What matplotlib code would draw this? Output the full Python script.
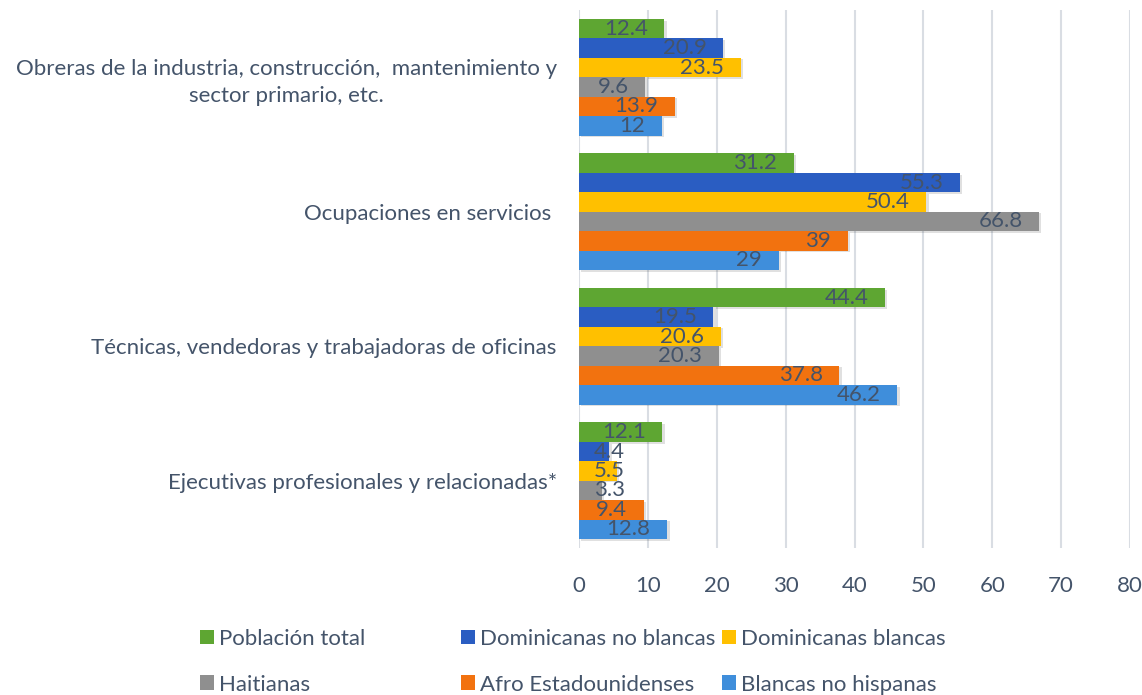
import matplotlib
matplotlib.use("Agg")
import matplotlib.pyplot as plt
from matplotlib.patches import Patch
import numpy as np

categories = [
    "Obreras de la industria, construcción,  mantenimiento y\nsector primario, etc.",
    "Ocupaciones en servicios ",
    "Técnicas, vendedoras y trabajadoras de oficinas",
    "Ejecutivas profesionales y relacionadas*",
]
series_names = ["Población total", "Dominicanas no blancas", "Dominicanas blancas",
                "Haitianas", "Afro Estadounidenses", "Blancas no hispanas"]
poblacion_total = [12.4, 31.2, 44.4, 12.1]
dominicanas_no_blancas = [20.9, 55.3, 19.5, 4.4]
dominicanas_blancas = [23.5, 50.4, 20.6, 5.5]
haitianas = [9.6, 66.8, 20.3, 3.3]
afro_estadounidenses = [13.9, 39, 37.8, 9.4]
blancas_no_hispanas = [12, 29, 46.2, 12.8]
value_labels = [
    ["12.4", "31.2", "44.4", "12.1"],
    ["20.9", "55.3", "19.5", "4.4"],
    ["23.5", "50.4", "20.6", "5.5"],
    ["9.6", "66.8", "20.3", "3.3"],
    ["13.9", "39", "37.8", "9.4"],
    ["12", "29", "46.2", "12.8"],
]
x_ticks = [0, 10, 20, 30, 40, 50, 60, 70, 80]

series = [poblacion_total, dominicanas_no_blancas, dominicanas_blancas,
          haitianas, afro_estadounidenses, blancas_no_hispanas]
colors = ["#5EA632", "#2A5DC2", "#FFC000", "#8F8F8F", "#F2720F", "#3F8EDB"]
text_color = "#44546A"
fs = 16

plt.rcParams["font.family"] = ["Lato", "DejaVu Sans"]

fig = plt.figure(figsize=(11.42, 6.95), dpi=100)
ax = fig.add_axes([579/1142, 1-548/695, (1130-579)/1142, (548-10)/695])

n = len(series)
h = 0.1444
ypos = np.arange(len(categories))
for i, (vals, c) in enumerate(zip(series, colors)):
    y = ypos - 0.5*n*h + (i+0.5)*h
    # shadow
    ax.barh(y + 0.012, vals, height=h, left=0.35, color="#000000", alpha=0.12, zorder=2)
    ax.barh(y, vals, height=h, color=c, zorder=3)
    for yy, v, lab in zip(y, vals, value_labels[i]):
        if v < 8:
            ax.text(2.2, yy, lab, ha="left", va="center", fontsize=fs,
                    color=text_color, zorder=5)
        else:
            ax.text(v - 2.4, yy, lab, ha="right", va="center", fontsize=fs,
                    color=text_color, zorder=5)

ax.set_xlim(0, 80)
ax.set_ylim(len(categories)-0.5, -0.5)
ax.set_xticks(x_ticks)
ax.set_xticklabels([str(t) for t in x_ticks])
ax.set_yticks(ypos)
ax.set_yticklabels(categories, multialignment="center", linespacing=1.45)
ax.tick_params(axis="y", length=0, pad=16, labelsize=fs, labelcolor=text_color)
ax.tick_params(axis="x", length=0, pad=20, labelsize=fs, labelcolor=text_color)
ax.grid(axis="x", color="#D9DDE3", linewidth=1.5, zorder=0)
ax.set_axisbelow(True)
for s in ax.spines.values():
    s.set_visible(False)

# legend: three columns placed manually
col_x = [200/1142, 461/1142, 722/1142]
for j in range(3):
    handles = [Patch(facecolor=colors[j], edgecolor="none"),
               Patch(facecolor=colors[j+3], edgecolor="none")]
    labels = [series_names[j], series_names[j+3]]
    leg = fig.legend(handles, labels, loc="upper left",
                     bbox_to_anchor=(col_x[j], 1-629/695), frameon=False,
                     fontsize=fs, handlelength=0.63, handleheight=0.63,
                     handletextpad=0.22, labelspacing=1.15, borderaxespad=0,
                     borderpad=0)
    for t in leg.get_texts():
        t.set_color(text_color)

fig.savefig("out.png", dpi=100)
